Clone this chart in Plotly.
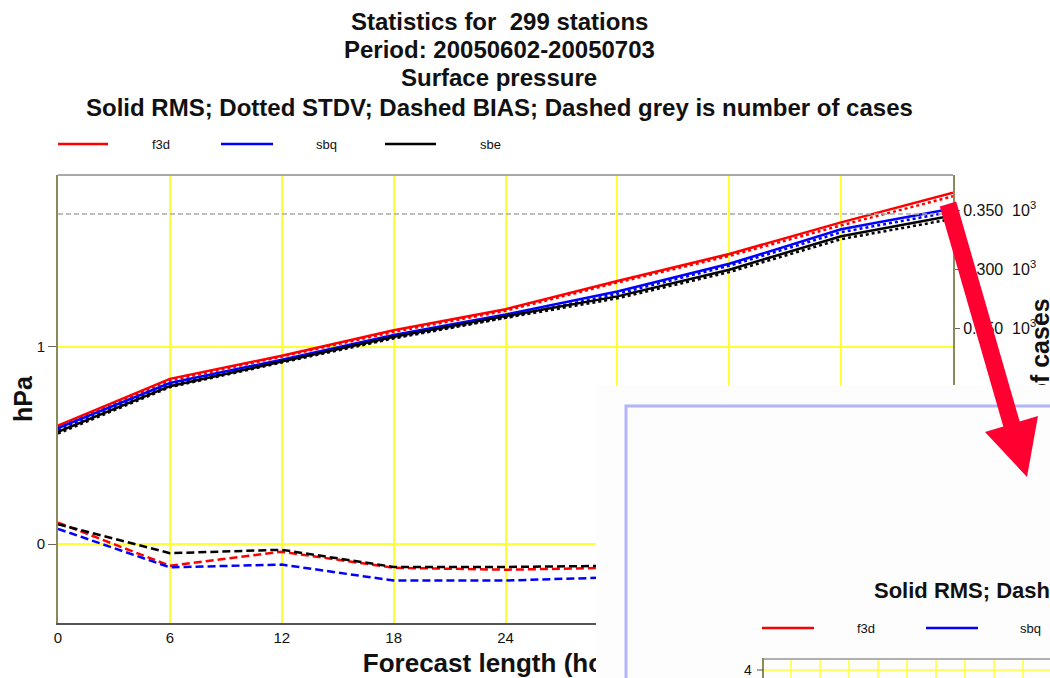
import plotly.graph_objects as go

# ---------------- data ----------------
hours = [0, 6, 12, 18, 24, 30, 36, 42, 48]
experiments = ["f3d", "sbq", "sbe"]
colors = ["#ff0000", "#0000ff", "#000000"]

rms_f3d = [0.60, 0.837, 0.954, 1.083, 1.19, 1.333, 1.47, 1.63, 1.78]
rms_sbq = [0.587, 0.816, 0.934, 1.06, 1.163, 1.28, 1.42, 1.595, 1.70]
rms_sbe = [0.568, 0.80, 0.925, 1.05, 1.155, 1.255, 1.39, 1.56, 1.665]

stdv_f3d = [0.592, 0.828, 0.95, 1.075, 1.182, 1.325, 1.46, 1.615, 1.762]
stdv_sbq = [0.58, 0.806, 0.927, 1.046, 1.148, 1.268, 1.41, 1.58, 1.685]
stdv_sbe = [0.56, 0.795, 0.92, 1.042, 1.146, 1.245, 1.378, 1.545, 1.648]

bias_f3d = [0.109, -0.11, -0.039, -0.12, -0.13, -0.12, -0.14, -0.18, -0.22]
bias_sbq = [0.077, -0.118, -0.104, -0.185, -0.185, -0.168, -0.19, -0.22, -0.25]
bias_sbe = [0.10, -0.046, -0.029, -0.116, -0.116, -0.11, -0.13, -0.16, -0.20]

num_cases = [347, 347, 347, 347, 347, 347, 347, 347, 347]

y_ticks = [0, 1]
y2_ticks = [250, 300, 350]
y2_ticktext = ["0.250 \u00a010<sup>3</sup>", "0.300 \u00a010<sup>3</sup>", "0.350 \u00a010<sup>3</sup>"]

title_lines = [
    "Statistics for \u00a0299 stations",
    "Period: 20050602-20050703",
    "Surface pressure",
    "Solid RMS; Dotted STDV; Dashed BIAS; Dashed grey is number of cases",
]

# ---------------- geometry helpers (pixel -> paper) ----------------
W, H = 1050, 678
L, R, T, B = 58, 953, 175, 623


def px(x):
    return (x - L) / (R - L)


def py(y):
    return (B - y) / (B - T)


FONT = "Liberation Sans, Arial, Helvetica, sans-serif"
GRID = "#ffff33"

fig = go.Figure()

rms = [rms_f3d, rms_sbq, rms_sbe]
stdv = [stdv_f3d, stdv_sbq, stdv_sbe]
bias = [bias_f3d, bias_sbq, bias_sbe]

# number of cases (grey dashed, right axis)
fig.add_trace(go.Scatter(x=hours, y=num_cases, yaxis="y2", mode="lines",
                         line=dict(color="#a9a9a9", width=1.5, dash="5px,3px"),
                         name="cases", showlegend=False))

for name, col, b in zip(experiments, colors, bias):
    fig.add_trace(go.Scatter(x=hours, y=b, mode="lines",
                             line=dict(color=col, width=2.5, dash="8px,4px"),
                             name=name + " bias", showlegend=False))
for name, col, s in zip(experiments, colors, stdv):
    fig.add_trace(go.Scatter(x=hours, y=s, mode="lines",
                             line=dict(color=col, width=2.5, dash="dot"),
                             name=name + " stdv", showlegend=False))
for name, col, r in zip(experiments, colors, rms):
    fig.add_trace(go.Scatter(x=hours, y=r, mode="lines",
                             line=dict(color=col, width=2.5),
                             name=name + " rms", showlegend=False))

shapes = []
annotations = []

# top frame line
shapes.append(dict(type="line", xref="paper", yref="paper", x0=0, x1=1, y0=1, y1=1,
                   line=dict(color="#a8a8a8", width=2), layer="above"))

# title lines
for txt, yy in zip(title_lines, [21, 49.5, 78, 107]):
    annotations.append(dict(text="<b>%s</b>" % txt, xref="paper", yref="paper",
                            x=px(499), y=py(yy), xanchor="center", yanchor="middle",
                            showarrow=False, font=dict(family=FONT, size=24, color="#111")))

# y-axis title
annotations.append(dict(text="<b>hPa</b>", xref="paper", yref="paper", x=px(23), y=py(399),
                        xanchor="center", yanchor="middle", textangle=-90, showarrow=False,
                        font=dict(family=FONT, size=25, color="#111")))

# main legend
leg_lines = [(58, 108), (221, 273), (385, 436)]
leg_text = [161, 326, 490]
for (a, b_), tx, name, col in zip(leg_lines, leg_text, experiments, colors):
    shapes.append(dict(type="line", xref="paper", yref="paper", x0=px(a), x1=px(b_),
                       y0=py(144), y1=py(144), line=dict(color=col, width=2.5)))
    annotations.append(dict(text=name, xref="paper", yref="paper", x=px(tx), y=py(144),
                            xanchor="center", yanchor="middle", showarrow=False,
                            font=dict(family=FONT, size=13, color="#111")))

# x-axis title and right-axis title as shape labels (so the overlay can hide them)
shapes.append(dict(type="rect", xref="paper", yref="paper", x0=px(388), x1=px(628),
                   y0=py(671), y1=py(651), line=dict(width=0), fillcolor="rgba(0,0,0,0)",
                   layer="above",
                   label=dict(text="<b>Forecast length (hours)</b>", textposition="middle center",
                              font=dict(family=FONT, size=26, color="#111"))))
shapes.append(dict(type="rect", xref="paper", yref="paper", x0=px(1028), x1=px(1048),
                   y0=py(500), y1=py(298), line=dict(width=0), fillcolor="rgba(0,0,0,0)",
                   layer="above",
                   label=dict(text="<b>Number of cases</b>", textposition="middle center",
                              textangle=-90,
                              font=dict(family=FONT, size=25, color="#111"))))

# ---------------- overlaid screenshot of another chart ----------------
shapes.append(dict(type="rect", xref="paper", yref="paper", x0=px(596), x1=px(1060),
                   y0=py(385), y1=py(690), line=dict(width=0), fillcolor="#fdfdfd",
                   layer="above"))
shapes.append(dict(type="rect", xref="paper", yref="paper", x0=px(626), x1=px(1070),
                   y0=py(406), y1=py(700), line=dict(color="#b3b3ff", width=3),
                   fillcolor="#fdfdfd", layer="above"))
# inset legend
for (a, b_), tx, name, col in zip([(762, 814), (926, 978)], [866, 1030],
                                  experiments[:2], colors[:2]):
    shapes.append(dict(type="line", xref="paper", yref="paper", x0=px(a), x1=px(b_),
                       y0=py(628), y1=py(628), line=dict(color=col, width=2.5), layer="above"))
    annotations.append(dict(text=name, xref="paper", yref="paper", x=px(tx), y=py(628),
                            xanchor="center", yanchor="middle", showarrow=False,
                            font=dict(family=FONT, size=13, color="#111")))
# inset plot frame and grid
for gx in [791, 820, 849, 878, 907, 936, 965, 994, 1023]:
    shapes.append(dict(type="line", xref="paper", yref="paper", x0=px(gx), x1=px(gx),
                       y0=py(660), y1=py(690), line=dict(color=GRID, width=1.5),
                       layer="above"))
shapes.append(dict(type="line", xref="paper", yref="paper", x0=px(763), x1=px(1060),
                   y0=py(670), y1=py(670), line=dict(color=GRID, width=1.5), layer="above"))
shapes.append(dict(type="line", xref="paper", yref="paper", x0=px(763), x1=px(1060),
                   y0=py(659), y1=py(659), line=dict(color="#b0b0b0", width=2), layer="above"))
shapes.append(dict(type="line", xref="paper", yref="paper", x0=px(763), x1=px(763),
                   y0=py(658), y1=py(690), line=dict(color="#8a8a5c", width=2), layer="above"))
shapes.append(dict(type="line", xref="paper", yref="paper", x0=px(757), x1=px(763),
                   y0=py(670), y1=py(670), line=dict(color="#555", width=1), layer="above"))
annotations.append(dict(text="4", xref="paper", yref="paper", x=px(754), y=py(670),
                        xanchor="right", yanchor="middle", showarrow=False,
                        font=dict(family=FONT, size=14, color="#111")))
annotations.append(dict(text="<b>Solid RMS; Dashed BIAS; Dashed grey is number of cases</b>",
                        xref="paper", yref="paper", x=px(872), y=py(590),
                        xanchor="left", yanchor="middle", showarrow=False,
                        font=dict(family=FONT, size=22, color="#111")))

# big red arrow
arrow_pts = [(939.8, 206.4), (956.2, 201.6), (1019.7, 421.6), (1038, 416),
             (1027, 477), (985, 432), (1003.3, 426.4)]
path = "M " + " L ".join("%.5f,%.5f" % (px(a), py(b_)) for a, b_ in arrow_pts) + " Z"
shapes.append(dict(type="path", xref="paper", yref="paper", path=path,
                   fillcolor="#ff0030", line=dict(width=0), layer="above"))

fig.update_layout(
    width=W, height=H,
    margin=dict(l=L, r=W - R, t=T, b=H - B, pad=0),
    paper_bgcolor="white", plot_bgcolor="white",
    showlegend=False,
    font=dict(family=FONT, size=15, color="#111"),
    xaxis=dict(range=[0, 48], tickmode="array", tickvals=hours,
               showgrid=True, gridcolor=GRID, gridwidth=1.5,
               zeroline=False, showline=True, linecolor="#555", linewidth=2,
               ticks="", tickfont=dict(size=15, color="#111"), fixedrange=True),
    yaxis=dict(range=[-0.40, 1.87], tickmode="array", tickvals=y_ticks,
               showgrid=True, gridcolor=GRID, gridwidth=1.5,
               zeroline=False, showline=True, linecolor="#8a8a5c", linewidth=2,
               ticks="outside", ticklen=8, tickcolor="#666",
               tickfont=dict(size=15, color="#111")),
    yaxis2=dict(range=[0, 380], overlaying="y", side="right", tickmode="array",
                tickvals=y2_ticks, ticktext=y2_ticktext, showgrid=False, zeroline=False,
                showline=True, linecolor="#8a8a5c", linewidth=2,
                ticks="outside", ticklen=5, tickcolor="#666",
                tickfont=dict(size=16, color="#111")),
    shapes=shapes,
    annotations=annotations,
)

fig.write_html("out.html")
